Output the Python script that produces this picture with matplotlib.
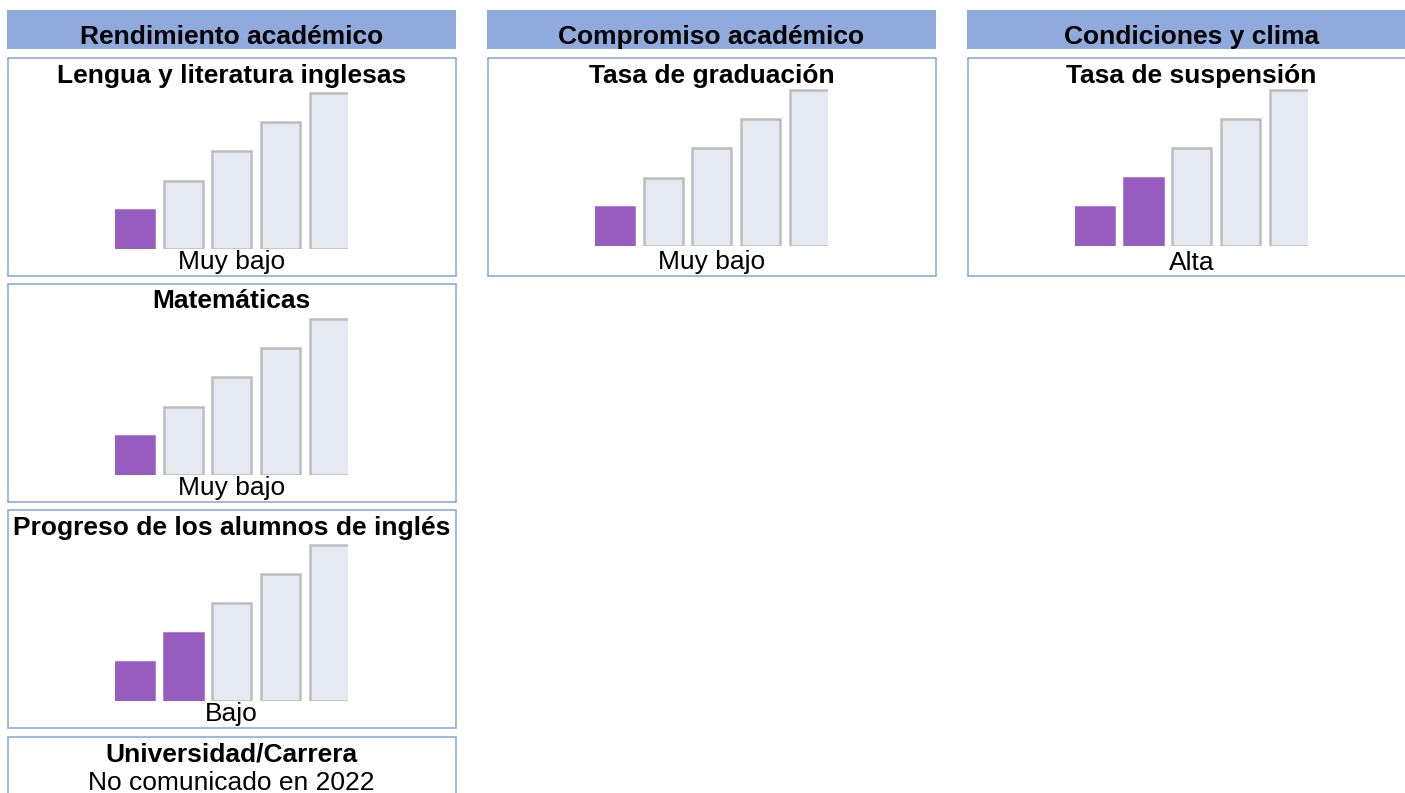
import matplotlib
matplotlib.use("Agg")
import matplotlib.pyplot as plt
from matplotlib.patches import Rectangle

plt.rcParams['font.family'] = ['Liberation Sans', 'DejaVu Sans']

# ---- data ----
column_titles = ["Rendimiento académico", "Compromiso académico", "Condiciones y clima"]
col0_indicators = ["Lengua y literatura inglesas", "Matemáticas",
                   "Progreso de los alumnos de inglés", "Universidad/Carrera"]
col0_levels = [1, 1, 2, None]
col0_labels = ["Muy bajo", "Muy bajo", "Bajo", "No comunicado en 2022"]
col1_indicators = ["Tasa de graduación"]
col1_levels = [1]
col1_labels = ["Muy bajo"]
col2_indicators = ["Tasa de suspensión"]
col2_levels = [2]
col2_labels = ["Alta"]
bar_heights = [4, 7, 10, 13, 16]

W, H = 1405, 793
fig = plt.figure(figsize=(W / 100, H / 100), dpi=100)
bg = fig.add_axes([0, 0, 1, 1])
bg.set_xlim(0, W)
bg.set_ylim(H, 0)
bg.axis('off')

HEAD = '#8FAADC'
BORDER = '#8FAADC'
PURPLE = '#975CC0'
EMPTY = '#E5E9F1'
EDGE = '#BDBDBD'
FS = 19

col_x = [7, 487, 967]
col_w = 449
panel_tops = [58, 284, 510, 737]
panel_h = 218
bar_base = [190, 187, 187]

columns = [
    (col0_indicators, col0_levels, col0_labels),
    (col1_indicators, col1_levels, col1_labels),
    (col2_indicators, col2_levels, col2_labels),
]


def px_axes(x, y, w, h):
    return fig.add_axes([x / W, 1 - (y + h) / H, w / W, h / H])


for c, (title, (inds, levels, labels)) in enumerate(zip(column_titles, columns)):
    x0 = col_x[c]
    bg.add_patch(Rectangle((x0, 10), col_w, 39, facecolor=HEAD, edgecolor='none'))
    bg.text(x0 + col_w / 2, 44, title, ha='center', va='baseline',
            fontsize=FS, fontweight='bold', color='black')
    for i, (ind, lev, lab) in enumerate(zip(inds, levels, labels)):
        top = panel_tops[i]
        bg.add_patch(Rectangle((x0 + 0.5, top), col_w - 1, panel_h,
                               facecolor='white', edgecolor=BORDER, linewidth=1.2))
        bg.text(x0 + col_w / 2, top + 24.5, ind, ha='center', va='baseline',
                fontsize=FS, fontweight='bold', color='black')
        if lev is None:
            bg.text(x0 + col_w / 2, top + 53, lab, ha='center', va='baseline',
                    fontsize=FS, color='black')
            continue
        bbase = top + bar_base[c]
        axh = 156
        ax = px_axes(x0 + 108, bbase - axh, 233, axh + 1)
        fc = [PURPLE if k < lev else EMPTY for k in range(len(bar_heights))]
        ec = [PURPLE if k < lev else EDGE for k in range(len(bar_heights))]
        ax.bar(range(len(bar_heights)), bar_heights, width=0.8, color=fc,
               edgecolor=ec, linewidth=1.8)
        ax.set_xlim(-0.4, 4.38)
        ax.set_ylim(0, 16.1)
        ax.axis('off')
        bg.text(x0 + col_w / 2, top + 211.5, lab, ha='center', va='baseline',
                fontsize=FS, color='black')

fig.savefig('out.png', dpi=100)
